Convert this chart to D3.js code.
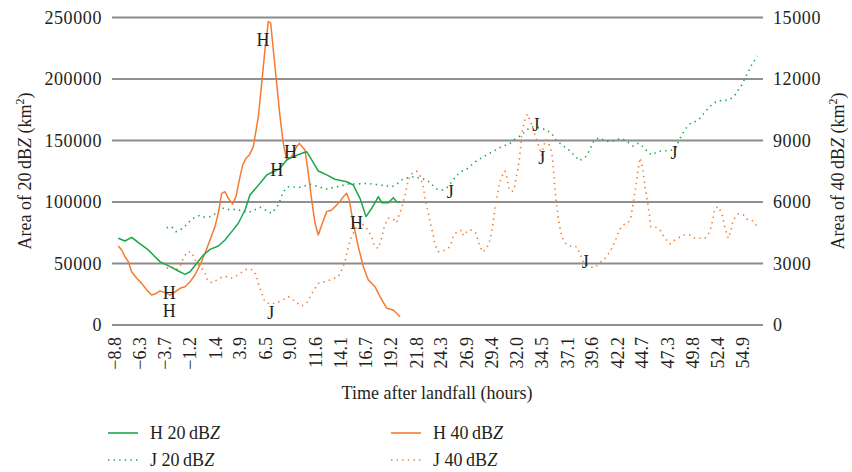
<!DOCTYPE html>
<html>
<head>
<meta charset="utf-8">
<script src="https://cdn.jsdelivr.net/npm/d3@7"></script>
<style>
  body { margin: 0; background: white; }
  text { font-family: "Liberation Serif", "Times New Roman", serif; fill: #231f20; }
</style>
</head>
<body>
<svg id="chart" width="852" height="472"></svg>
<script>
// x tick labels (hours after landfall)
var timeTicks = [-8.8, -6.3, -3.7, -1.2, 1.4, 3.9, 6.5, 9.0, 11.6, 14.1, 16.7, 19.2, 21.8,
    24.3, 26.9, 29.4, 32.0, 34.5, 37.1, 39.6, 42.2, 44.7, 47.3, 49.8, 52.4, 54.9]
var leftTicks = [0, 50000, 100000, 150000, 200000, 250000]
var rightTicks = [0, 3000, 6000, 9000, 12000, 15000]

// H 20 dBZ (left axis)
var hTime20 = [-8.47, -7.79, -7.11, -6.26, -5.42, -4.74, -4.24, -3.22, -2.38, -1.70, -1.19, -0.51,
    0.16, 0.84, 1.68, 2.36, 3.04, 3.71, 4.39, 4.89, 5.91, 6.59, 7.26, 7.94, 8.62, 9.28, 9.96,
    10.64, 11.15, 11.82, 12.67, 13.51, 14.70, 15.37, 16.05, 16.66, 17.24, 17.91, 18.25, 18.92,
    19.43, 19.77, 20.11]
var hArea20 = [70500, 68300, 71300, 65900, 61000, 55500, 51500, 47400, 43900, 41200, 43300, 50200,
    56900, 61500, 64200, 69100, 75900, 82700, 93500, 105700, 115200, 122000, 124600, 127400,
    134200, 136800, 139000, 140900, 134200, 125200, 122000, 118500, 116500, 113800, 103000,
    88100, 94900, 104300, 99400, 99400, 103500, 100200, 100200]

// H 40 dBZ (right axis)
var hTime40 = [-8.47, -8.12, -7.79, -7.45, -7.11, -6.60, -6.09, -5.58, -5.08, -4.74, -4.24, -3.73,
    -3.22, -2.71, -2.21, -1.70, -1.19, -0.69, -0.18, 0.33, 0.84, 1.34, 1.68, 2.02, 2.36, 2.69,
    3.14, 3.47, 3.81, 4.15, 4.49, 4.82, 5.23, 5.74, 6.08, 6.41, 6.75, 6.99, 7.26, 7.60, 7.94,
    8.27, 8.62, 9.12, 9.63, 9.89, 10.47, 10.81, 11.15, 11.49, 11.82, 12.17, 12.67, 13.18, 13.69,
    14.02, 14.36, 14.70, 14.96, 15.37, 15.88, 16.39, 16.89, 17.57, 18.08, 18.76, 19.43, 20.11]
var hArea40 = [3850, 3660, 3330, 3090, 2600, 2280, 2030, 1710, 1460, 1510, 1660, 1580,
    1460, 1620, 1790, 1870, 2110, 2440, 2930, 3500, 4150, 4800, 5450, 6420, 6500, 6180,
    5900, 6260, 7070, 7810, 8130, 8290, 8700, 10160, 11790, 13420, 14800, 14720, 13420, 11790, 10160,
    8860, 8050, 8210, 8700, 8860, 8540, 7400, 6100, 4960, 4390, 4880, 5530, 5610, 5850,
    6020, 6260, 6420, 6100, 4960, 3820, 2840, 2200, 1870, 1380, 820, 730, 400]

// J 20 dBZ (left axis)
var jTime20 = [-3.56, -3.05, -2.61, -2.21, -1.80, -1.37, -0.86, -0.28, 0.33, 0.91, 1.41, 1.85,
    2.36, 2.86, 3.47, 4.05, 4.72, 5.91, 7.09, 7.76, 8.27, 8.78, 9.96, 10.98, 11.82, 12.67, 13.69,
    14.86, 15.72, 16.73, 18.08, 19.27, 19.77, 20.38, 20.95, 21.53, 22.14, 22.82, 23.32, 23.83,
    24.44, 25.01, 25.35, 25.79, 26.29, 26.87, 27.89, 29.06, 30.25, 31.26, 31.87, 32.45, 32.96,
    33.46, 33.97, 34.81, 35.49, 35.83, 36.34, 37.35, 37.86, 38.29, 38.87, 39.31, 39.78, 40.32,
    40.90, 41.48, 42.09, 42.67, 43.18, 43.74, 44.28, 44.78, 45.19, 45.64, 46.20, 46.75, 47.32,
    48.00, 48.34, 48.68, 49.12, 49.59, 50.03, 50.54, 50.94, 51.38, 51.82, 52.39, 52.97, 53.58,
    54.02, 54.42, 54.77, 55.10, 55.44, 55.78, 56.11, 56.35]
var jArea20 = [79100, 79900, 75900, 77200, 79400, 83200, 86800, 88900, 87600, 88100, 90800, 94900,
    94900, 93500, 94100, 92900, 91300, 95700, 90800, 97600, 108400, 112400, 112000, 114400, 112400,
    110600, 112400, 114600, 114600, 115200, 113800, 112400, 114400, 118500, 119800, 120600, 119300,
    117900, 114400, 110600, 109800, 112400, 116500, 121100, 124600, 126800, 133600, 139000, 144200,
    147700, 151800, 154500, 158500, 161200, 160700, 159100, 155900, 151000, 147700, 141500, 137400,
    133600, 136000, 141500, 149800, 152300, 149800, 149000, 151000, 151600, 148800, 145500, 147700,
    145000, 140900, 138200, 140900, 141700, 141700, 142800, 149000, 154500, 159900, 164000, 165300,
    168100, 172100, 176200, 179700, 182400, 182400, 183500, 186200, 191100, 195100, 200600, 205900,
    211400, 215500, 218700]

// J 40 dBZ (right axis)
var jTime40 = [-3.56, -3.05, -2.61, -2.14, -1.87, -1.53, -1.12, -0.79, -0.51, -0.01, 0.33, 0.60,
    1.11, 1.52, 2.02, 2.46, 2.94, 3.37, 3.88, 4.56, 4.89, 5.23, 5.57, 5.74, 6.08, 6.41, 6.92, 7.43,
    8.11, 8.78, 8.95, 9.46, 10.14, 10.64, 10.98, 11.38, 11.82, 12.50, 13.18, 13.85, 14.18, 14.53,
    14.86, 15.21, 15.72, 16.05, 16.40, 16.89, 17.27, 17.57, 17.91, 18.25, 18.52, 18.92, 19.43,
    19.77, 19.94, 20.28, 20.62, 20.95, 21.29, 21.80, 22.14, 22.47, 22.64, 22.98, 23.26, 23.46,
    23.66, 24.00, 24.50, 25.01, 25.28, 25.51, 25.89, 26.37, 26.53, 27.04, 27.38, 27.82, 28.15,
    28.50, 28.90, 29.17, 29.34, 29.47, 29.64, 29.84, 30.08, 30.25, 30.42, 30.76, 30.93, 31.16,
    31.44, 31.67, 31.87, 32.05, 32.21, 32.35, 32.45, 32.61, 32.79, 33.02, 33.22, 33.47, 33.70,
    33.90, 34.14, 34.48, 34.71, 34.92, 35.25, 35.49, 35.66, 35.83, 36.00, 36.16, 36.41, 36.67,
    37.02, 37.52, 38.03, 38.37, 38.70, 39.21, 39.89, 40.39, 40.90, 41.34, 41.68, 42.05, 42.42,
    42.83, 43.20, 43.51, 43.69, 43.84, 44.04, 44.25, 44.45, 44.66, 44.86, 45.01, 45.19, 45.39,
    45.54, 45.97, 46.48, 46.99, 47.49, 48.00, 48.84, 49.52, 50.03, 50.54, 51.04, 51.55, 51.82,
    52.06, 52.39, 52.74, 52.90, 53.07, 53.41, 53.65, 53.91, 54.42, 54.93, 55.27, 55.78, 56.11, 56.35]
var jArea40 = [2770, 2840, 2680, 2930, 3250, 3530, 3580, 3330, 3010, 2770, 2520, 2160,
    2060, 2200, 2330, 2360, 2280, 2360, 2520, 2720, 2720, 2680, 2360, 2030, 1550, 1140, 1020, 1070,
    1190, 1380, 1340, 1140, 930, 1060, 1380, 1710, 2030, 2110, 2230, 2360, 2680, 3090,
    3820, 4310, 4800, 5020, 4880, 4630, 4240, 3820, 3740, 4240, 4830, 5220, 5170,
    4990, 5280, 5710, 6340, 7070, 7370, 7510, 7270, 6750, 6200, 5460, 4830, 4440,
    3900, 3580, 3610, 3740, 3950, 4360, 4550, 4630, 4360, 4630, 4630, 4470, 3900,
    3560, 3740, 4060, 4390, 4720, 5320, 5940, 6590, 6990, 7230, 7510, 7230, 6670,
    6500, 6590, 7160, 7560, 8050, 8700, 9350, 9670, 10000, 10290, 10080, 9760, 9430,
    9110, 8780, 8290, 8780, 9060, 8780, 8450, 7720, 6590, 5850, 5210, 4550, 4150,
    3900, 3850, 3820, 3460, 3090, 2840, 2800, 3040, 3250, 3530, 3820, 4240, 4680,
    4900, 4960, 5210, 5710, 6200, 6750, 7560, 8150, 7760, 7170, 6590, 6100, 5450,
    4800, 4800, 4630, 4230, 3950, 4150, 4390, 4390, 4230, 4230, 4230, 4550, 5120,
    5690, 5770, 5450, 5120, 4720, 4230, 4550, 5120, 5420, 5370, 5160, 5120, 4960, 4770]

// H / J markers placed in the chart: [label, hours, left-axis area]
var markLabels = ['H', 'H', 'H', 'H', 'H', 'H', 'J', 'J', 'J', 'J', 'J', 'J']
var markTimes = [6.2, 7.6, 9.0, 15.7, -3.3, -3.3, 7.0, 25.2, 33.9, 34.5, 38.9, 47.9]
var markAreas = [232000, 126000, 141000, 83000, 26000, 11000, 10000, 108000, 163000, 136000, 51000, 140000]

var green = '#1aa64b'
var orange = '#f47b2f'

var svg = d3.select('#chart')
var plotLeft = 112, plotRight = 763

var x = d3.scaleLinear().domain([-8.8, 54.9]).range([115, 743])
var yL = d3.scaleLinear().domain([0, 250000]).range([325, 17.5])
var yR = d3.scaleLinear().domain([0, 15000]).range([325, 17.5])

// gridlines (alternating grey / black as in the source)
svg.append('g').selectAll('line')
    .data(leftTicks)
    .join('line')
    .attr('x1', plotLeft)
    .attr('x2', plotRight)
    .attr('y1', d => yL(d))
    .attr('y2', d => yL(d))
    .style('stroke', (d, i) => i % 2 ? '#8c8c8c' : '#222')
    .style('stroke-width', (d, i) => i % 2 ? 1.8 : 1.1)

// left axis labels
svg.append('g').selectAll('text')
    .data(leftTicks)
    .join('text')
    .attr('x', 102)
    .attr('y', d => yL(d) + 6)
    .style('text-anchor', 'end')
    .style('font-size', '18px')
    .style('letter-spacing', '0.6px')
    .text(d => d)

// right axis labels
svg.append('g').selectAll('text')
    .data(rightTicks)
    .join('text')
    .attr('x', 773)
    .attr('y', d => yR(d) + 6)
    .style('text-anchor', 'start')
    .style('font-size', '18px')
    .style('letter-spacing', '0.6px')
    .text(d => d)

// x tick labels, rotated
svg.append('g').selectAll('text')
    .data(timeTicks)
    .join('text')
    .attr('transform', d => 'translate(' + (x(d) + 6) + ',337) rotate(-90)')
    .style('text-anchor', 'end')
    .style('font-size', '18px')
    .text(d => (d < 0 ? '\u2212' + (-d).toFixed(1) : d.toFixed(1)))

// series
function drawSeries(times, areas, yScale, color, dashed) {
    var pts = times.map((t, i) => [t, areas[i]])
    var line = d3.line().x(d => x(d[0])).y(d => yScale(d[1]))
    svg.append('path')
        .datum(pts)
        .attr('d', line)
        .style('fill', 'none')
        .style('stroke', color)
        .style('stroke-width', dashed ? 1.6 : 1.5)
        .style('stroke-dasharray', dashed ? '1.4,4.2' : null)
        .style('stroke-linejoin', 'round')
}
drawSeries(jTime40, jArea40, yR, orange, true)
drawSeries(jTime20, jArea20, yL, green, true)
drawSeries(hTime40, hArea40, yR, orange, false)
drawSeries(hTime20, hArea20, yL, green, false)

// H / J markers
svg.append('g').selectAll('text')
    .data(markLabels)
    .join('text')
    .attr('x', (d, i) => x(markTimes[i]))
    .attr('y', (d, i) => yL(markAreas[i]) + 6)
    .style('text-anchor', 'middle')
    .style('font-size', '18px')
    .text(d => d)

// axis titles
function dbzTitle(sel, n) {
    sel.append('tspan').text('Area of ' + n + '\u2009dB')
    sel.append('tspan').style('font-style', 'italic').text('Z')
    sel.append('tspan').text(' (km')
    sel.append('tspan').attr('dy', -7).style('font-size', '12px').text('2')
    sel.append('tspan').attr('dy', 7).text(')')
}
var leftTitle = svg.append('text')
    .attr('transform', 'translate(31,171) rotate(-90)')
    .style('text-anchor', 'middle')
    .style('font-size', '18px')
dbzTitle(leftTitle, '20')

var rightTitle = svg.append('text')
    .attr('transform', 'translate(844,171) rotate(-90)')
    .style('text-anchor', 'middle')
    .style('font-size', '18px')
dbzTitle(rightTitle, '40')

svg.append('text')
    .attr('x', 437)
    .attr('y', 399)
    .style('text-anchor', 'middle')
    .style('font-size', '18px')
    .text('Time after landfall (hours)')

// legend
var legendNames = ['H 20', 'H 40', 'J 20', 'J 40']
var legendColors = [green, orange, green, orange]
var legendDashed = [false, false, true, true]
var lg = svg.append('g')
legendNames.forEach(function(name, i) {
    var lx = i % 2 ? 391 : 108
    var ly = i < 2 ? 433 : 460
    lg.append('line')
        .attr('x1', lx).attr('x2', lx + 30)
        .attr('y1', ly).attr('y2', ly)
        .style('stroke', legendColors[i])
        .style('stroke-width', 1.6)
        .style('stroke-dasharray', legendDashed[i] ? '1.4,4.2' : null)
    var t = lg.append('text')
        .attr('x', lx + 42)
        .attr('y', ly + 6)
        .style('font-size', '18px')
    t.append('tspan').text(name + '\u2009dB')
    t.append('tspan').style('font-style', 'italic').text('Z')
})
</script>
</body>
</html>
